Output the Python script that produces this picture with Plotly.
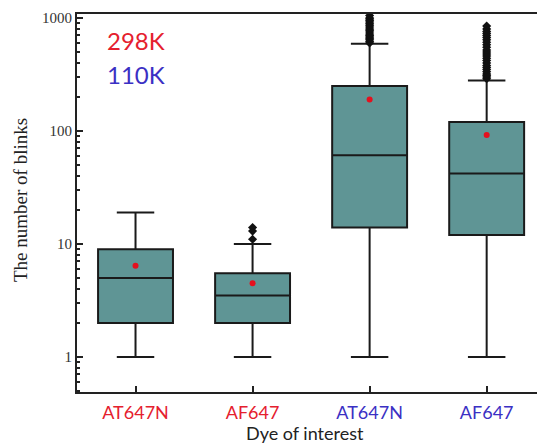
import plotly.graph_objects as go

categories = ["AT647N", "AF647", "AT647N", "AF647"]
label_colors = ["#e5202e", "#e5202e", "#3b30c4", "#3b30c4"]
q1 = [2, 2, 14, 12]
median = [5, 3.5, 61, 42]
q3 = [9, 5.5, 250, 120]
lower = [1, 1, 1, 1]
upper = [19, 10, 590, 280]
means = [6.4, 4.5, 190, 92]
outliers = [
    [],
    [11, 13, 14],
    [600, 620, 640, 660, 680, 700, 720, 750, 780, 800, 830, 860, 890, 920, 950, 980, 1000, 1050],
    [290, 300, 310, 320, 335, 350, 365, 380, 400, 420, 440, 460, 480, 500, 520, 550,
     580, 610, 640, 670, 700, 730, 760, 800, 850],
]
counts = ["298K", "110K"]
count_colors = ["#e5202e", "#3b30c4"]

xs = [1, 2, 3, 4]
fig = go.Figure()
for i, x in enumerate(xs):
    fig.add_trace(go.Box(
        x=[x], q1=[q1[i]], median=[median[i]], q3=[q3[i]],
        lowerfence=[lower[i]], upperfence=[upper[i]],
        width=0.64, whiskerwidth=0.5, boxpoints=False,
        fillcolor="#5f9595", line=dict(color="#1a1a1a", width=2),
        showlegend=False,
    ))
    if outliers[i]:
        fig.add_trace(go.Scatter(
            x=[x] * len(outliers[i]), y=outliers[i], mode="markers",
            marker=dict(symbol="diamond", size=7, color="#111111"),
            showlegend=False,
        ))
fig.add_trace(go.Scatter(
    x=xs, y=means, mode="markers",
    marker=dict(size=6, color="#e5101e"), showlegend=False,
))

ticktext = [f'<span style="color:{c}">{t}</span>' for t, c in zip(categories, label_colors)]

fig.update_layout(
    width=537, height=447,
    margin=dict(l=77, r=0, t=14, b=55),
    paper_bgcolor="white", plot_bgcolor="white",
    xaxis=dict(
        range=[0.5, 4.43], tickvals=xs, ticktext=ticktext,
        showline=True, linecolor="#222", linewidth=2, mirror=True,
        ticks="inside", ticklen=6, tickwidth=2, tickcolor="#222",
        showgrid=False, zeroline=False, ticklabelstandoff=3,
        tickfont=dict(family="Lato", size=18),
    ),
    yaxis=dict(
        type="log", range=[-0.31, 3.035],
        tickvals=[1, 10, 100, 1000], ticktext=["1", "10", "100", "1000"],
        showline=True, linecolor="#222", linewidth=2,
        ticks="inside", ticklen=6, tickwidth=1.5, tickcolor="#222",
        minor=dict(ticks="inside", ticklen=3, tickcolor="#222", dtick="D1", showgrid=False),
        showgrid=False, zeroline=False,
        tickfont=dict(family="Liberation Serif", size=15, color="#333"),
    ),
    annotations=[
        dict(text="The number of blinks", xref="paper", yref="paper", x=-0.1217, y=0.508,
             xanchor="center", yanchor="middle",
             textangle=-90, showarrow=False, font=dict(family="Liberation Serif", size=19, color="#222")),
        dict(text="Dye of interest", xref="paper", yref="paper", x=0.496, y=-0.108,
             xanchor="center", yanchor="middle",
             showarrow=False, font=dict(family="Lato", size=18, color="#222")),
        dict(text=counts[0], xref="paper", yref="paper", x=0.128, y=0.931,
             xanchor="center", yanchor="middle",
             showarrow=False, font=dict(family="Lato", size=24, color=count_colors[0])),
        dict(text=counts[1], xref="paper", yref="paper", x=0.128, y=0.839,
             xanchor="center", yanchor="middle",
             showarrow=False, font=dict(family="Lato", size=24, color=count_colors[1])),
    ],
)

fig.write_html("out.html")
